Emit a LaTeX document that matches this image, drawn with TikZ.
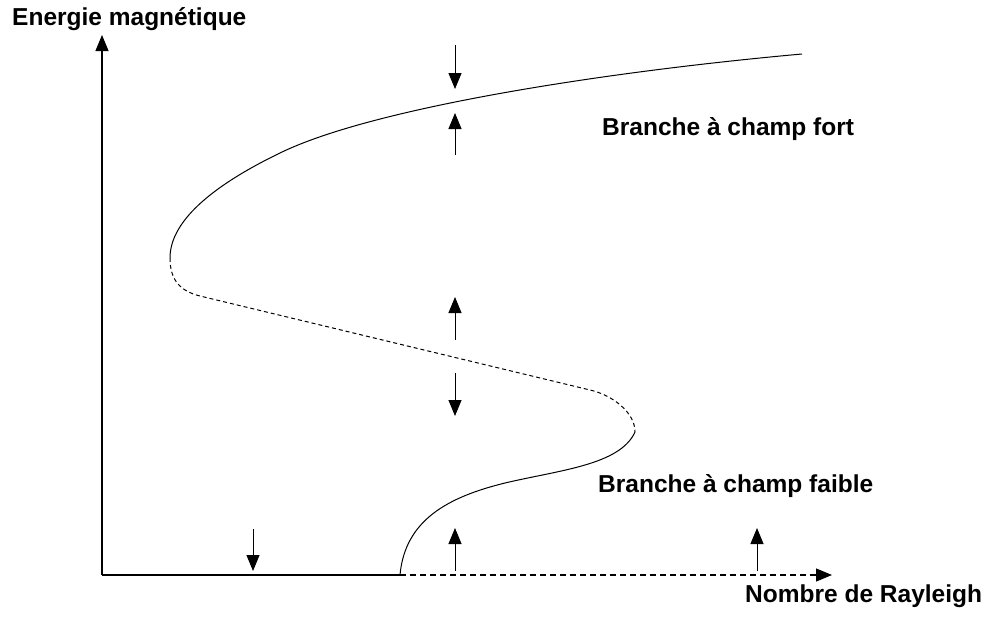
\documentclass[tikz,border=0pt]{standalone}
\usepackage{fontspec}
\setmainfont{Liberation Sans}
\usetikzlibrary{arrows.meta}
\tikzset{
  lbl/.style={anchor=base west,inner sep=0pt,font=\fontsize{24.5}{29}\selectfont\bfseries},
  axis/.style={line width=1.2pt,-{Triangle[length=16pt,width=13pt]}},
  flow/.style={line width=1pt,-{Triangle[length=16pt,width=13pt]}},
  stable/.style={line width=1pt},
  unstable/.style={line width=1pt,dash pattern=on 4pt off 3pt},
}
\begin{document}
\begin{tikzpicture}[x=1pt,y=-1pt]
\useasboundingbox (0,0) rectangle (991,621);
% axes
\coordinate (O) at (102,575);
\coordinate (ytop) at (102,35);
\coordinate (B) at (400,575);
\coordinate (xend) at (832,575);
\draw[axis] (O) -- (ytop);
\draw[line width=1.2pt] (O) -- (B);
\draw[axis,dash pattern=on 6pt off 4pt] (B) -- (xend);
% curve
\coordinate (F1) at (170,258);
\coordinate (F2) at (635,432);
\coordinate (U1) at (280,153);
\coordinate (Uend) at (802,54);
\coordinate (M1) at (200,296);
\coordinate (M2) at (590,390);
\coordinate (L1) at (505,483);
\draw[stable] (F1) .. controls (170,218) and (220,182) .. (U1)
  .. controls (372,108) and (602,72) .. (Uend);
\draw[unstable] (F1) .. controls (170,280) and (180,291) .. (M1) -- (M2)
  .. controls (612,395) and (635,412) .. (F2);
\draw[stable] (F2) .. controls (620,465) and (560,470) .. (L1)
  .. controls (448,497) and (405,520) .. (B);
% stability arrows
\coordinate (a1s) at (455,45);  \coordinate (a1e) at (455,89);
\coordinate (a2s) at (455,155); \coordinate (a2e) at (455,113);
\coordinate (a3s) at (455,340); \coordinate (a3e) at (455,297);
\coordinate (a4s) at (455,373); \coordinate (a4e) at (455,416);
\coordinate (a5s) at (455,571); \coordinate (a5e) at (455,528);
\coordinate (a6s) at (757,571); \coordinate (a6e) at (757,528);
\coordinate (a7s) at (253,529); \coordinate (a7e) at (253,571);
\foreach \i in {1,...,7} \draw[flow] (a\i s) -- (a\i e);
% labels
\node[lbl] (ylab) at (12,25) {Energie magnétique};
\node[lbl] (xlab) at (745,602) {Nombre de Rayleigh};
\node[lbl] (fort) at (602,135) {Branche à champ fort};
\node[lbl] (faible) at (598,492) {Branche à champ faible};
\end{tikzpicture}
\end{document}
